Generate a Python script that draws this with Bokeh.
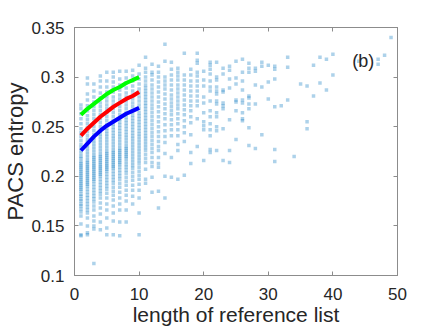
from bokeh.plotting import figure
from bokeh.models import Range1d, LinearAxis, FixedTicker, NumeralTickFormatter, Label, ColumnDataSource
from bokeh.embed import file_html
from bokeh.resources import INLINE

# ---- data ----
x_ticks = [0, 10, 20, 30, 40, 50]
y_ticks = [0.1, 0.15, 0.2, 0.25, 0.3, 0.35]

curve_len = [1, 2, 3, 4, 5, 6, 7, 8, 9, 10]
green_curve = [0.262, 0.268, 0.273, 0.278, 0.283, 0.287, 0.290, 0.294, 0.297, 0.300]
red_curve = [0.241, 0.248, 0.254, 0.260, 0.265, 0.270, 0.274, 0.278, 0.281, 0.285]
blue_curve = [0.226, 0.233, 0.240, 0.246, 0.251, 0.255, 0.259, 0.263, 0.266, 0.269]

len01 = [0.140, 0.141, 0.152, 0.160, 0.164, 0.167, 0.170, 0.172, 0.175, 0.177, 0.180, 0.182, 0.185, 0.187, 0.189, 0.191, 0.193, 0.195, 0.197, 0.199, 0.201, 0.203, 0.205, 0.207, 0.209, 0.211, 0.213, 0.215, 0.218, 0.220, 0.223, 0.226, 0.229, 0.232, 0.236, 0.240, 0.244, 0.248, 0.253, 0.258, 0.263, 0.268, 0.272]
len02 = [0.141, 0.143, 0.150, 0.158, 0.163, 0.166, 0.169, 0.172, 0.175, 0.178, 0.181, 0.184, 0.187, 0.190, 0.192, 0.194, 0.196, 0.198, 0.200, 0.202, 0.204, 0.206, 0.208, 0.210, 0.212, 0.214, 0.216, 0.219, 0.222, 0.225, 0.228, 0.231, 0.234, 0.237, 0.241, 0.245, 0.249, 0.253, 0.257, 0.261, 0.266, 0.271, 0.277, 0.283, 0.293, 0.299]
len03 = [0.112, 0.147, 0.150, 0.155, 0.160, 0.166, 0.170, 0.174, 0.177, 0.180, 0.183, 0.186, 0.189, 0.192, 0.195, 0.197, 0.199, 0.201, 0.203, 0.205, 0.207, 0.209, 0.211, 0.213, 0.215, 0.217, 0.219, 0.221, 0.224, 0.227, 0.230, 0.233, 0.236, 0.239, 0.242, 0.246, 0.250, 0.254, 0.258, 0.262, 0.266, 0.270, 0.275, 0.280, 0.286, 0.293]
len04 = [0.146, 0.154, 0.162, 0.168, 0.173, 0.178, 0.182, 0.185, 0.188, 0.191, 0.194, 0.197, 0.200, 0.202, 0.204, 0.206, 0.208, 0.210, 0.212, 0.214, 0.216, 0.218, 0.220, 0.222, 0.225, 0.228, 0.231, 0.234, 0.237, 0.240, 0.243, 0.246, 0.250, 0.254, 0.258, 0.262, 0.266, 0.270, 0.274, 0.279, 0.284, 0.290, 0.296, 0.301]
len05 = [0.141, 0.148, 0.158, 0.166, 0.172, 0.178, 0.183, 0.187, 0.190, 0.193, 0.196, 0.199, 0.202, 0.205, 0.207, 0.209, 0.211, 0.213, 0.215, 0.217, 0.219, 0.221, 0.223, 0.225, 0.228, 0.231, 0.234, 0.237, 0.240, 0.243, 0.246, 0.249, 0.252, 0.256, 0.260, 0.264, 0.268, 0.272, 0.276, 0.280, 0.285, 0.290, 0.296, 0.305]
len06 = [0.141, 0.155, 0.163, 0.170, 0.176, 0.181, 0.185, 0.189, 0.193, 0.196, 0.199, 0.202, 0.205, 0.208, 0.210, 0.212, 0.214, 0.216, 0.218, 0.220, 0.222, 0.224, 0.226, 0.229, 0.232, 0.235, 0.238, 0.241, 0.244, 0.247, 0.250, 0.253, 0.256, 0.260, 0.264, 0.268, 0.272, 0.276, 0.280, 0.285, 0.290, 0.295, 0.300, 0.305]
len07 = [0.140, 0.154, 0.166, 0.172, 0.178, 0.184, 0.189, 0.193, 0.197, 0.200, 0.203, 0.206, 0.209, 0.212, 0.214, 0.216, 0.218, 0.220, 0.222, 0.224, 0.226, 0.228, 0.231, 0.234, 0.237, 0.240, 0.243, 0.246, 0.249, 0.252, 0.255, 0.258, 0.262, 0.266, 0.270, 0.274, 0.278, 0.282, 0.287, 0.292, 0.298, 0.306]
len08 = [0.154, 0.166, 0.175, 0.181, 0.186, 0.191, 0.195, 0.199, 0.203, 0.206, 0.209, 0.212, 0.215, 0.218, 0.220, 0.222, 0.224, 0.226, 0.228, 0.230, 0.233, 0.236, 0.239, 0.242, 0.245, 0.248, 0.251, 0.254, 0.257, 0.260, 0.264, 0.268, 0.272, 0.276, 0.280, 0.284, 0.289, 0.294, 0.299, 0.306]
len09 = [0.172, 0.180, 0.186, 0.191, 0.196, 0.200, 0.204, 0.208, 0.211, 0.214, 0.217, 0.220, 0.223, 0.226, 0.229, 0.232, 0.235, 0.238, 0.241, 0.244, 0.247, 0.250, 0.253, 0.256, 0.259, 0.262, 0.266, 0.270, 0.274, 0.278, 0.282, 0.286, 0.291, 0.296, 0.301, 0.307]
len10 = [0.141, 0.163, 0.178, 0.186, 0.192, 0.197, 0.201, 0.205, 0.209, 0.213, 0.216, 0.219, 0.222, 0.225, 0.228, 0.231, 0.234, 0.237, 0.240, 0.243, 0.246, 0.249, 0.252, 0.255, 0.258, 0.261, 0.264, 0.268, 0.272, 0.276, 0.280, 0.284, 0.288, 0.293, 0.298, 0.303, 0.312]
len11 = [0.193, 0.197, 0.207, 0.214, 0.218, 0.222, 0.226, 0.229, 0.232, 0.235, 0.238, 0.241, 0.244, 0.247, 0.250, 0.253, 0.256, 0.259, 0.262, 0.265, 0.268, 0.271, 0.274, 0.277, 0.280, 0.283, 0.286, 0.289, 0.292, 0.296, 0.300, 0.305, 0.309, 0.320]
len12 = [0.184, 0.199, 0.210, 0.214, 0.219, 0.224, 0.228, 0.232, 0.236, 0.240, 0.244, 0.248, 0.252, 0.256, 0.260, 0.264, 0.268, 0.272, 0.276, 0.280, 0.284, 0.288, 0.292, 0.297, 0.302, 0.305, 0.313]
len13 = [0.168, 0.185, 0.209, 0.213, 0.219, 0.226, 0.230, 0.235, 0.240, 0.245, 0.250, 0.255, 0.260, 0.265, 0.270, 0.275, 0.280, 0.285, 0.290, 0.295, 0.300, 0.305, 0.311]
len14 = [0.178, 0.200, 0.223, 0.234, 0.240, 0.246, 0.252, 0.258, 0.263, 0.268, 0.273, 0.278, 0.283, 0.288, 0.292, 0.296, 0.300, 0.316, 0.333]
len15 = [0.199, 0.219, 0.241, 0.247, 0.252, 0.257, 0.262, 0.266, 0.270, 0.274, 0.278, 0.282, 0.287, 0.292, 0.297, 0.302, 0.308, 0.315]
len16 = [0.197, 0.226, 0.232, 0.241, 0.247, 0.253, 0.258, 0.263, 0.268, 0.272, 0.276, 0.280, 0.284, 0.288, 0.292, 0.297, 0.301, 0.305, 0.309]
len17 = [0.201, 0.235, 0.244, 0.250, 0.256, 0.262, 0.267, 0.272, 0.277, 0.282, 0.287, 0.292, 0.297, 0.302, 0.324]
len18 = [0.213, 0.224, 0.242, 0.254, 0.260, 0.266, 0.271, 0.276, 0.281, 0.286, 0.291, 0.296, 0.302, 0.308]
len19 = [0.230, 0.258, 0.271, 0.276, 0.281, 0.286, 0.291, 0.296, 0.301, 0.305, 0.314, 0.317, 0.324]
len20 = [0.216, 0.247, 0.251, 0.255, 0.264, 0.274, 0.280, 0.291, 0.297, 0.306]
len21 = [0.224, 0.227, 0.241, 0.247, 0.253, 0.260, 0.266, 0.276, 0.286, 0.290, 0.296, 0.303, 0.308, 0.312, 0.315]
len22 = [0.226, 0.246, 0.250, 0.260, 0.264, 0.273, 0.276, 0.283, 0.286, 0.290, 0.297, 0.300, 0.315]
len23 = [0.216, 0.248, 0.268, 0.271, 0.274, 0.285, 0.287, 0.303, 0.309]
len24 = [0.214, 0.226, 0.257, 0.289, 0.298, 0.307, 0.311]
len25 = [0.237, 0.266, 0.275, 0.277, 0.293, 0.299, 0.316]
len26 = [0.256, 0.258, 0.264, 0.274, 0.277, 0.287, 0.296, 0.305, 0.318]
len27 = [0.231, 0.249, 0.268, 0.273, 0.279, 0.281, 0.305, 0.309, 0.314]
len28 = [0.228, 0.273, 0.292, 0.306, 0.309]
len29 = [0.242, 0.290, 0.311, 0.315]
len30 = [0.278, 0.295, 0.312]
len31 = [0.215, 0.227, 0.270, 0.298, 0.308, 0.311]
len32 = [0.271]
len33 = [0.277, 0.310, 0.320]
len34 = [0.220]
len35 = [0.293]
len36 = [0.248, 0.255, 0.291]
len37 = [0.281, 0.312]
len38 = [0.294, 0.320]
len39 = [0.287, 0.318]
len40 = [0.302, 0.323]
len44 = [0.316]
len47 = [0.313, 0.318]
len48 = [0.322]
len49 = [0.340]

columns = [
    (1, len01), (2, len02), (3, len03), (4, len04), (5, len05), (6, len06), (7, len07),
    (8, len08), (9, len09), (10, len10), (11, len11), (12, len12), (13, len13), (14, len14),
    (15, len15), (16, len16), (17, len17), (18, len18), (19, len19), (20, len20), (21, len21),
    (22, len22), (23, len23), (24, len24), (25, len25), (26, len26), (27, len27), (28, len28),
    (29, len29), (30, len30), (31, len31), (32, len32), (33, len33), (34, len34), (35, len35),
    (36, len36), (37, len37), (38, len38), (39, len39), (40, len40), (44, len44), (47, len47),
    (48, len48), (49, len49),
]

pts_x, pts_y = [], []
for n, ys in columns:
    pts_x.extend([n] * len(ys))
    pts_y.extend(ys)

FONT = "Liberation Sans"
TXT = "#262626"
AX = "#8c8c8c"

p = figure(frame_width=323, frame_height=248,
           x_range=Range1d(0, 50), y_range=Range1d(0.1, 0.35),
           output_backend="svg", toolbar_location=None,
           min_border_left=66, min_border_right=41, min_border_top=27, min_border_bottom=48,
           background_fill_color="white", border_fill_color="white")
p.grid.visible = False
p.outline_line_color = AX
p.outline_line_width = 1

src = ColumnDataSource(dict(x=pts_x, y=pts_y))
p.scatter("x", "y", source=src, marker="square", size=3.5,
          fill_color="#0072BD", fill_alpha=0.32, line_color=None)

p.line(curve_len, green_curve, line_color="#00FF00", line_width=4)
p.line(curve_len, red_curve, line_color="#FF0000", line_width=4)
p.line(curve_len, blue_curve, line_color="#0000FF", line_width=4)

for ax in (p.xaxis[0], p.yaxis[0]):
    ax.axis_line_color = AX
    ax.major_tick_line_color = AX
    ax.major_tick_in = 4
    ax.major_tick_out = 0
    ax.minor_tick_line_color = None
    ax.major_label_text_font = FONT
    ax.major_label_text_font_size = "17px"
    ax.major_label_text_color = TXT
    ax.axis_label_text_font = FONT
    ax.axis_label_text_font_style = "normal"
    ax.axis_label_text_color = TXT

p.xaxis[0].ticker = FixedTicker(ticks=x_ticks)
p.yaxis[0].ticker = FixedTicker(ticks=y_ticks)
p.yaxis[0].formatter = NumeralTickFormatter(format="0.[00]")
p.xaxis[0].axis_label = "length of reference list"
p.yaxis[0].axis_label = "PACS entropy"
p.xaxis[0].axis_label_text_font_size = "21px"
p.yaxis[0].axis_label_text_font_size = "22px"
p.xaxis[0].major_label_standoff = 12
p.yaxis[0].major_label_standoff = 10
p.xaxis[0].axis_label_standoff = 0
p.yaxis[0].axis_label_standoff = 0

top = LinearAxis(ticker=FixedTicker(ticks=x_ticks), major_label_text_color=None,
                 axis_line_color=AX, major_tick_line_color=AX, major_tick_in=4, major_tick_out=0,
                 minor_tick_line_color=None)
right = LinearAxis(ticker=FixedTicker(ticks=y_ticks), major_label_text_color=None,
                   axis_line_color=AX, major_tick_line_color=AX, major_tick_in=4, major_tick_out=0,
                   minor_tick_line_color=None)
p.add_layout(top, "above")
p.add_layout(right, "right")

p.add_layout(Label(x=43.0, y=0.3167, text="(b)", text_font=FONT, text_font_size="18px",
                   text_color=TXT, text_baseline="middle", text_align="left"))

open("out.html", "w").write(file_html(p, INLINE))
